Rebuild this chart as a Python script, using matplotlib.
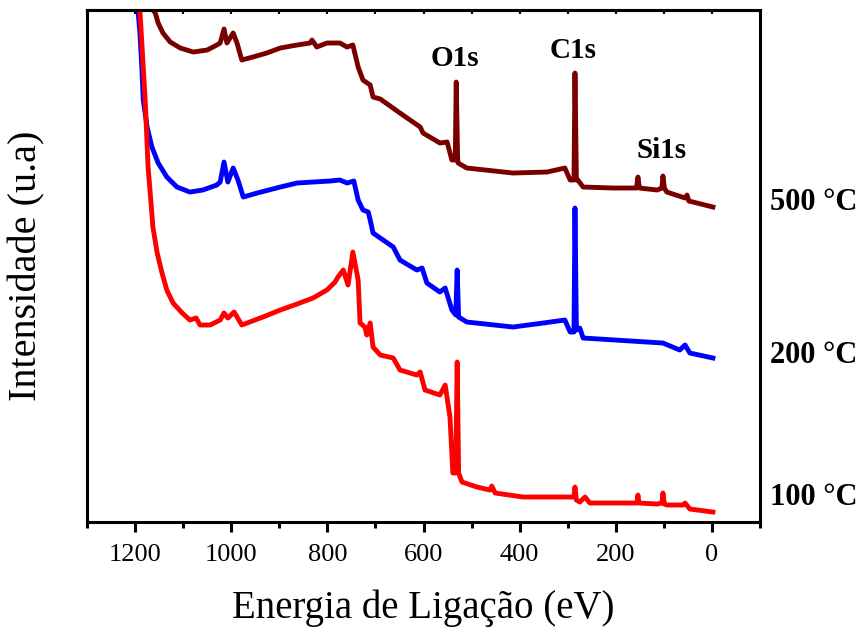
import numpy as np
import matplotlib
matplotlib.use("Agg")
import matplotlib.pyplot as plt
from matplotlib.ticker import MultipleLocator

plt.rcParams['font.family'] = ['Liberation Serif', 'DejaVu Serif']

# Binding energy (eV) and intensity (a.u., vertically offset) for each spectrum
e_500 = [1172, 1163, 1158, 1152, 1142, 1127, 1106, 1079, 1050, 1030, 1023, 1015, 1009, 996,
         988, 978, 955, 926, 898, 863, 836, 832, 822, 801, 774, 759, 747, 736, 726, 711,
         705, 690, 649, 607, 601, 566, 551, 541, 534, 532, 529, 528, 510, 414, 343, 306,
         295, 287, 285, 282, 279, 268, 206, 157, 154, 151, 114, 104, 102, 99, 94, 56,
         52, 48, -2]
i_500 = [542, 512, 509, 499, 489, 480, 474, 470, 472, 477, 479, 493, 479, 489,
         479, 462, 465, 469, 474, 477, 479, 482, 475, 479, 479, 475, 477, 455, 442, 437,
         425, 423, 409, 395, 389, 379, 380, 362, 362, 440, 362, 359, 354, 349, 350, 354,
         342, 342, 449, 342, 342, 335, 334, 334, 345, 334, 332, 334, 346, 334, 330, 324,
         327, 321, 315]

e_200 = [1205, 1194, 1190, 1186, 1183, 1175, 1165, 1152, 1134, 1113, 1086, 1059, 1030, 1023,
         1015, 1007, 996, 986, 975, 946, 898, 863, 830, 794, 774, 759, 745, 736, 726, 715,
         711, 705, 690, 663, 649, 614, 603, 593, 566, 555, 541, 533, 530, 527, 510, 414,
         351, 306, 295, 287, 285, 282, 275, 268, 135, 102, 67, 56, 46, -2]
i_200 = [542, 512, 489, 455, 422, 395, 375, 359, 345, 335, 330, 332, 337, 340,
         360, 340, 354, 342, 325, 329, 335, 339, 340, 341, 342, 339, 341, 322, 312, 310,
         302, 289, 284, 275, 262, 252, 254, 239, 230, 234, 212, 207, 252, 205, 200, 195,
         199, 202, 190, 190, 314, 192, 194, 184, 180, 179, 172, 177, 169, 164]

e_100 = [1195, 1190, 1179, 1173, 1167, 1163, 1154, 1144, 1134, 1121, 1102, 1086, 1073,
         1065, 1044, 1023, 1015, 1007, 994, 978, 967, 934, 898, 863, 830, 801, 784, 778,
         767, 757, 747, 736, 732, 722, 718, 711, 705, 690, 663, 649, 614, 607, 597, 566,
         555, 545, 539, 533, 530, 527, 520, 489, 462, 458, 451, 393, 351, 295, 287, 285,
         282, 275, 264, 254, 156, 154, 152, 114, 104, 102, 99, 94, 60, 56, 46, -2]
i_100 = [542, 512, 422, 355, 320, 295, 269, 249, 232, 219, 209, 202, 204,
         197, 197, 202, 209, 204, 210, 197, 199, 205, 212, 218, 224, 232, 240, 245,
         252, 237, 270, 242, 199, 195, 187, 199, 175, 167, 164, 152, 147, 150, 132, 127,
         137, 105, 49, 49, 160, 49, 40, 35, 32, 36, 29, 25, 25, 25, 25, 35,
         22, 20, 25, 19, 19, 27, 19, 18, 19, 29, 18, 17, 17, 19, 13, 10]

series_labels = ["500 °C", "200 °C", "100 °C"]
label_y = [320, 167, 25]
peak_names = ["O1s", "C1s", "Si1s"]
peak_pos = [(534, 464), (289, 472), (104, 372)]

fig = plt.figure(figsize=(8.59, 6.30), dpi=100)
ax = fig.add_axes([0.1013, 0.1714, 0.7835, 0.8127])

lw = 3.5
ax.plot(e_500, i_500, color="#7a0000", lw=lw, solid_joinstyle="round")
ax.plot(e_200, i_200, color="#0000ff", lw=lw, solid_joinstyle="round")
ax.plot(e_100, i_100, color="#ff0000", lw=lw, solid_joinstyle="round")

ax.set_xlim(1300, -100)
ax.set_ylim(0, 512)
ax.set_yticks([])

ax.xaxis.set_major_locator(MultipleLocator(200))
ax.xaxis.set_minor_locator(MultipleLocator(100))
ax.tick_params(axis="x", which="major", direction="out", length=7, width=2.2,
               labelsize=19, pad=9)
ax.tick_params(axis="x", which="minor", direction="out", length=4, width=2.2)

top = ax.secondary_xaxis("top")
top.xaxis.set_major_locator(MultipleLocator(100))
top.tick_params(axis="x", direction="in", length=3, width=1.5, labeltop=False)

for sp in ax.spines.values():
    sp.set_linewidth(2.2)
top.spines["top"].set_linewidth(2.2)

ax.set_xlabel("Energia de Ligação (eV)", fontsize=28, labelpad=17)
ax.set_ylabel("Intensidade (u.a)", fontsize=29, labelpad=30)

for lab, y in zip(series_labels, label_y):
    ax.text(-120, y, lab, fontsize=22, fontweight="bold", ha="left", va="center",
            clip_on=False)

for name, (x, y) in zip(peak_names, peak_pos):
    ax.text(x, y, name, fontsize=21, fontweight="bold", ha="center", va="center")

fig.savefig("out.png", dpi=100)
